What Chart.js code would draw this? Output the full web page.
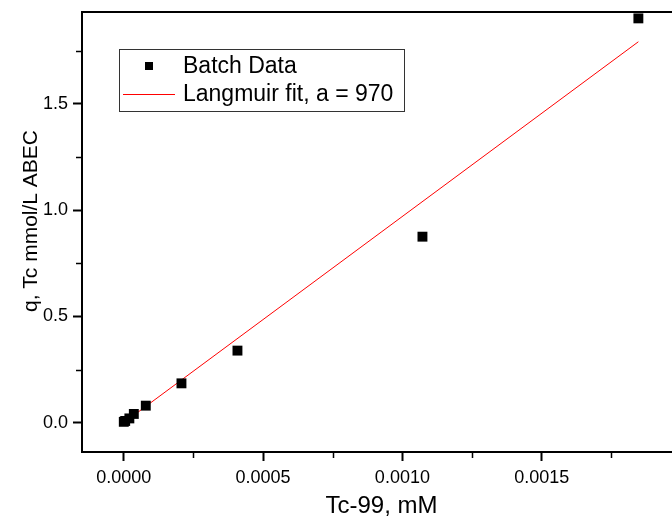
<!DOCTYPE html>
<html>
<head>
<meta charset="utf-8">
<script src="https://cdn.jsdelivr.net/npm/chart.js@4/dist/chart.umd.min.js"></script>
<style>
    html, body { margin: 0; padding: 0; background: #fff; overflow: hidden; }
</style>
</head>
<body>
<canvas id="isoChart" width="700" height="523"></canvas>
<script>
// batch sorption data, Tc-99 concentration (mM) vs loading q
var batchConc = [0, 0.000005, 0.00002, 0.000036, 0.000079, 0.000207, 0.000408, 0.001072, 0.001847];
var batchQ = [0.004, 0.008, 0.02, 0.041, 0.080, 0.185, 0.339, 0.875, 1.902];

// end points of the Langmuir fit line
var fitConc = [0, 0.001847];
var fitQ = [0, 1.792];

var xTicks = [0, 0.0005, 0.0010, 0.0015];
var yTicks = [0, 0.5, 1.0, 1.5];
var xMinor = [0.00025, 0.00075, 0.00125, 0.00175];
var yMinor = [0.25, 0.75, 1.25, 1.75];

var yTitle = 'q, Tc mmol/L ABEC';
var fontName = "'Liberation Sans', Arial, sans-serif";

var batchPoints = batchConc.map((x, index) => ({ x: x, y: batchQ[index] }));
var fitPoints = fitConc.map((x, index) => ({ x: x, y: fitQ[index] }));

function setTicks(values) {
    return function(scale) {
        scale.ticks = values.map(function(v) { return { value: v }; });
    };
}

// legend box inside the plot, top frame line, minor ticks, y title
var extras = {
    id: 'extras',
    afterDraw: function(chart) {
        var ctx = chart.ctx;
        var area = chart.chartArea;
        var xs = chart.scales.x;
        var ys = chart.scales.y;
        ctx.save();

        ctx.strokeStyle = '#000';
        ctx.lineWidth = 2;
        ctx.beginPath();
        ctx.moveTo(area.left - 1, area.top);
        ctx.lineTo(area.right, area.top);
        ctx.stroke();

        ctx.lineWidth = 1.5;
        ctx.beginPath();
        xMinor.forEach(function(v) {
            var px = Math.round(xs.getPixelForValue(v)) + 0.5;
            ctx.moveTo(px, area.bottom);
            ctx.lineTo(px, area.bottom + 6);
        });
        yMinor.forEach(function(v) {
            var py = Math.round(ys.getPixelForValue(v)) + 0.5;
            ctx.moveTo(area.left, py);
            ctx.lineTo(area.left - 6, py);
        });
        ctx.stroke();

        ctx.fillStyle = '#000';
        ctx.textAlign = 'center';
        ctx.textBaseline = 'middle';
        ctx.font = '21px ' + fontName;
        ctx.translate(31, 221);
        ctx.rotate(-Math.PI / 2);
        ctx.fillText(yTitle, 0, 0);
        ctx.setTransform(1, 0, 0, 1, 0, 0);

        // legend
        var bx = 119, by = 49, bw = 285, bh = 62;
        ctx.strokeStyle = '#333';
        ctx.lineWidth = 1;
        ctx.strokeRect(bx + 0.5, by + 0.5, bw, bh);
        ctx.font = '23px ' + fontName;
        ctx.textAlign = 'left';
        var ds = chart.data.datasets;
        ctx.fillRect(145, 62, 8, 8);
        ctx.fillText(ds[0].label, 183, 67);
        ctx.strokeStyle = '#ff0000';
        ctx.beginPath();
        ctx.moveTo(123, 94.5);
        ctx.lineTo(175, 94.5);
        ctx.stroke();
        ctx.fillText(ds[1].label, 183, 95);
        ctx.restore();
    }
};

var ctx1 = document.getElementById('isoChart').getContext('2d');
var isoChart = new Chart(ctx1, {
    type: 'scatter',
    data: {
        datasets: [{
                label: 'Batch Data',
                data: batchPoints,
                pointStyle: 'rect',
                pointRadius: 7,
                borderWidth: 0,
                backgroundColor: '#000',
                borderColor: '#000'
            },
            {
                label: 'Langmuir fit, a = 970',
                data: fitPoints,
                showLine: true,
                pointRadius: 0,
                borderColor: '#ff0000',
                borderWidth: 1,
                fill: false
            }
        ]
    },
    plugins: [extras],
    options: {
        responsive: false,
        animation: false,
        layout: { padding: { top: 12, right: 19, left: 0, bottom: 0 } },
        plugins: {
            legend: { display: false },
            tooltip: { enabled: false }
        },
        scales: {
            x: {
                type: 'linear',
                position: 'bottom',
                min: -0.00015,
                max: 0.002,
                afterBuildTicks: setTicks(xTicks),
                afterFit: function(scale) {
                    scale.height = 71;
                    scale.paddingLeft = 0;
                    scale.paddingRight = 0;
                },
                ticks: {
                    color: '#000',
                    padding: 6,
                    maxRotation: 0,
                    autoSkip: false,
                    font: { family: fontName, size: 18 },
                    callback: function(value) { return value.toFixed(4); }
                },
                grid: {
                    drawOnChartArea: false,
                    tickLength: 9,
                    tickColor: '#000',
                    tickWidth: 2
                },
                border: { color: '#000', width: 2 },
                title: {
                    display: true,
                    text: 'Tc-99, mM',
                    color: '#000',
                    font: { family: fontName, size: 24 },
                    padding: { top: 0, bottom: 2 }
                }
            },
            y: {
                min: -0.138,
                max: 1.932,
                afterBuildTicks: setTicks(yTicks),
                afterFit: function(scale) {
                    scale.width = 82;
                    scale.paddingTop = 0;
                    scale.paddingBottom = 0;
                },
                ticks: {
                    color: '#000',
                    padding: 5,
                    autoSkip: false,
                    font: { family: fontName, size: 18 },
                    callback: function(value) { return value.toFixed(1); }
                },
                grid: {
                    drawOnChartArea: false,
                    tickLength: 9,
                    tickColor: '#000',
                    tickWidth: 2
                },
                border: { color: '#000', width: 2 }
            }
        }
    }
});
</script>
</body>
</html>
